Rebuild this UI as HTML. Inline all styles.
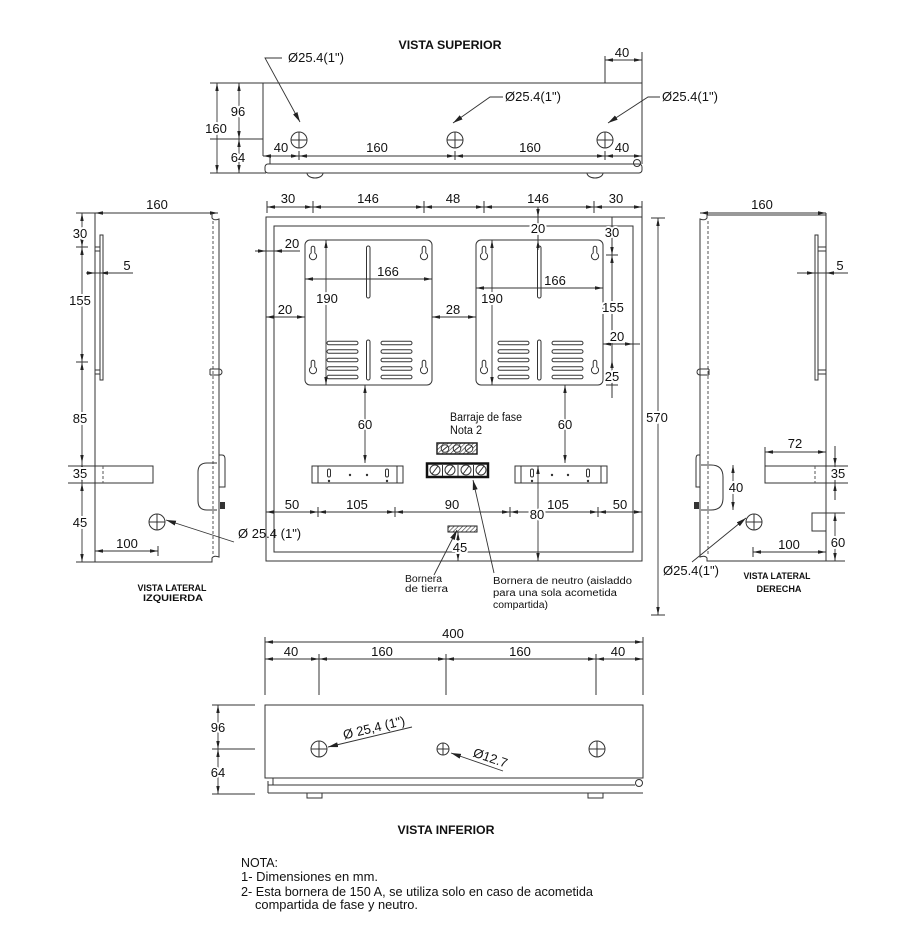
<!DOCTYPE html>
<html><head><meta charset="utf-8"><style>
html,body{margin:0;padding:0;background:#fff}
svg{display:block}
.s{stroke:#333;stroke-width:1;fill:none}
.dm{stroke:#333;stroke-width:0.9;fill:none;marker-start:url(#a);marker-end:url(#a)}
.me{stroke:#333;stroke-width:0.9;fill:none;marker-end:url(#a)}
.ld{stroke:#333;stroke-width:0.9;fill:none;marker-end:url(#b)}
.ds{stroke:#555;stroke-width:1;stroke-dasharray:3 2;fill:none}
text{font-family:"Liberation Sans",sans-serif;fill:#111}
.n{font-size:13px;text-anchor:middle}
.h{paint-order:stroke;stroke:#fff;stroke-width:4px;stroke-linejoin:round}
.tt{font-size:12px;font-weight:bold;text-anchor:middle}
.st{font-size:9.5px;font-weight:bold;text-anchor:middle}
.lb{font-size:13px}
.tc{font-size:10px}
.nt{font-size:12.5px}
</style></head><body>
<svg width="899" height="943" viewBox="0 0 899 943" xmlns="http://www.w3.org/2000/svg">
<defs>
<marker id="a" viewBox="0 0 8 4" refX="8" refY="2" markerWidth="8" markerHeight="4" markerUnits="userSpaceOnUse" orient="auto-start-reverse"><path d="M0,0.3 L8,2 L0,3.7 z" fill="#222"/></marker>
<marker id="b" viewBox="0 0 10 5" refX="10" refY="2.5" markerWidth="10" markerHeight="5" markerUnits="userSpaceOnUse" orient="auto"><path d="M0,0 L10,2.5 L0,5 z" fill="#222"/></marker>
<pattern id="hp" width="3" height="3" patternUnits="userSpaceOnUse" patternTransform="rotate(45)"><line x1="0" y1="0" x2="0" y2="3" stroke="#333" stroke-width="1.2"/></pattern>
<path id="kh" d="M-1.8,-5 A1.8,1.8 0 0 1 1.8,-5 L1.8,0 A3.6,3.6 0 1 1 -1.8,0 Z" fill="none" stroke="#333" stroke-width="1"/>
</defs>
<rect width="899" height="943" fill="#fff"/>

<!-- ================= VISTA SUPERIOR ================= -->
<text class="tt" x="450" y="49" textLength="103" lengthAdjust="spacingAndGlyphs">VISTA SUPERIOR</text>
<path class="s" d="M210,83 H642 V164 M263,83 V156 M210,139 H263 M210,173 H266"/>
<rect class="s" x="265" y="164" width="377" height="9" rx="3"/>
<path class="s" d="M270,156 V164"/>
<circle class="s" cx="637" cy="163" r="3.5"/>
<path class="s" d="M307,173 A8,5 0 0 0 323,173 M587,173 A8,5 0 0 0 603,173"/>
<g class="s">
<circle cx="299" cy="140" r="8"/><path d="M291,140 H307 M299,132 V148"/>
<circle cx="455" cy="140" r="8"/><path d="M447,140 H463 M455,132 V148"/>
<circle cx="605" cy="140" r="8"/><path d="M597,140 H613 M605,132 V148"/>
</g>
<line class="dm" x1="263" y1="156" x2="299" y2="156"/>
<line class="dm" x1="299" y1="156" x2="455" y2="156"/>
<line class="dm" x1="455" y1="156" x2="605" y2="156"/>
<line class="dm" x1="605" y1="156" x2="642" y2="156"/>
<path class="s" d="M299,151 V160 M455,151 V160 M605,151 V160"/>
<text class="n" x="281" y="152">40</text>
<text class="n" x="377" y="152">160</text>
<text class="n" x="530" y="152">160</text>
<text class="n" x="622" y="152">40</text>
<line class="dm" x1="217" y1="83" x2="217" y2="173"/>
<text class="n h" x="216" y="133">160</text>
<line class="dm" x1="239" y1="83" x2="239" y2="139"/>
<line class="dm" x1="239" y1="139" x2="239" y2="173"/>
<text class="n h" x="238" y="116">96</text>
<text class="n h" x="238" y="162">64</text>
<path class="s" d="M605,56 V83 M642,52 V83"/>
<line class="dm" x1="605" y1="60" x2="642" y2="60"/>
<text class="n" x="622" y="57">40</text>
<polyline class="ld" points="282,58 265,58 300,122"/>
<text class="lb" x="288" y="62">Ø25.4(1&quot;)</text>
<polyline class="ld" points="503,97 490,97 453,123"/>
<text class="lb" x="505" y="101">Ø25.4(1&quot;)</text>
<polyline class="ld" points="660,97 648,97 608,123"/>
<text class="lb" x="662" y="101">Ø25.4(1&quot;)</text>

<!-- ================= VISTA LATERAL IZQUIERDA ================= -->
<line class="dm" x1="95" y1="213" x2="218" y2="213"/>
<text class="n" x="157" y="209">160</text>
<path class="s" d="M95,213 V562 H212 V558 Q214,555 219,557 V219 Q214,221 212,218 V213"/>
<line class="ds" x1="213" y1="221" x2="213" y2="556"/>
<rect class="s" x="100" y="235" width="3" height="145"/>
<path class="s" d="M95,247 H100 M95,251 H100 M95,370 H100 M95,374 H100"/>
<path class="s" d="M210,369 H219 M210,375 H219 M210,369 V375 M219,369 A3,3 0 0 1 219,375"/>
<line class="dm" x1="82" y1="213" x2="82" y2="247"/>
<line class="dm" x1="82" y1="247" x2="82" y2="362"/>
<line class="dm" x1="82" y1="362" x2="82" y2="463"/>
<line class="dm" x1="82" y1="463" x2="82" y2="483"/>
<line class="dm" x1="82" y1="483" x2="82" y2="562"/>
<path class="s" d="M76,247 H88 M76,362 H88 M68,466 H95 M68,483 H95 M76,562 H95 M76,213 H95"/>
<text class="n h" x="80" y="238">30</text>
<text class="n h" x="80" y="305">155</text>
<text class="n h" x="80" y="423">85</text>
<text class="n h" x="80" y="478">35</text>
<text class="n h" x="80" y="527">45</text>
<line class="s" x1="86" y1="273" x2="133" y2="273"/>
<line class="me" x1="86" y1="273" x2="95" y2="273"/>
<line class="me" x1="112" y1="273" x2="100" y2="273"/>
<text class="n" x="127" y="270">5</text>
<rect class="s" x="95" y="466" width="58" height="17"/>
<line class="ds" x1="103" y1="466" x2="103" y2="483"/>
<path class="s" d="M217,463 H207 Q198,463 198,472 V501 Q198,510 207,510 H217"/>
<path class="s" d="M219,455 H222 Q225,455 225,459 V487 H219"/>
<rect x="220" y="502" width="5" height="7" fill="#333"/>
<g class="s"><circle cx="157" cy="522" r="8"/><path d="M149,522 H165 M157,514 V530"/></g>
<line class="ld" x1="234" y1="542" x2="166" y2="520"/>
<line class="dm" x1="95" y1="551" x2="158" y2="551"/>
<path class="s" d="M158,546 V556"/>
<text class="n" x="127" y="548">100</text>
<text class="st" x="172" y="591" textLength="69" lengthAdjust="spacingAndGlyphs">VISTA LATERAL</text>
<text class="st" x="173" y="601" textLength="60" lengthAdjust="spacingAndGlyphs">IZQUIERDA</text>

<!-- ================= VISTA FRONTAL ================= -->
<g class="s">
<rect x="266" y="217" width="376" height="344"/>
<rect x="274" y="226" width="359" height="326"/>
<rect x="305" y="240" width="127" height="145" rx="5"/>
<rect x="476" y="240" width="127" height="145" rx="5"/>
<rect x="366.5" y="246" width="3.5" height="52" rx="1.75"/>
<rect x="366.5" y="340" width="3.5" height="40" rx="1.75"/>
<rect x="537.5" y="246" width="3.5" height="52" rx="1.75"/>
<rect x="537.5" y="340" width="3.5" height="40" rx="1.75"/>
<rect x="327" y="341.3" width="31" height="3.5" rx="1.75"/>
<rect x="327" y="349.8" width="31" height="3.5" rx="1.75"/>
<rect x="327" y="358.3" width="31" height="3.5" rx="1.75"/>
<rect x="327" y="366.8" width="31" height="3.5" rx="1.75"/>
<rect x="327" y="375.3" width="31" height="3.5" rx="1.75"/>
<rect x="381" y="341.3" width="31" height="3.5" rx="1.75"/>
<rect x="381" y="349.8" width="31" height="3.5" rx="1.75"/>
<rect x="381" y="358.3" width="31" height="3.5" rx="1.75"/>
<rect x="381" y="366.8" width="31" height="3.5" rx="1.75"/>
<rect x="381" y="375.3" width="31" height="3.5" rx="1.75"/>
<rect x="498" y="341.3" width="31" height="3.5" rx="1.75"/>
<rect x="498" y="349.8" width="31" height="3.5" rx="1.75"/>
<rect x="498" y="358.3" width="31" height="3.5" rx="1.75"/>
<rect x="498" y="366.8" width="31" height="3.5" rx="1.75"/>
<rect x="498" y="375.3" width="31" height="3.5" rx="1.75"/>
<rect x="552" y="341.3" width="31" height="3.5" rx="1.75"/>
<rect x="552" y="349.8" width="31" height="3.5" rx="1.75"/>
<rect x="552" y="358.3" width="31" height="3.5" rx="1.75"/>
<rect x="552" y="366.8" width="31" height="3.5" rx="1.75"/>
<rect x="552" y="375.3" width="31" height="3.5" rx="1.75"/>
</g>
<use href="#kh" x="313" y="253"/><use href="#kh" x="424" y="253"/>
<use href="#kh" x="313" y="367"/><use href="#kh" x="424" y="367"/>
<use href="#kh" x="484" y="253"/><use href="#kh" x="595" y="253"/>
<use href="#kh" x="484" y="367"/><use href="#kh" x="595" y="367"/>

<!-- top dims -->
<line class="dm" x1="267" y1="207" x2="313" y2="207"/>
<line class="dm" x1="313" y1="207" x2="424" y2="207"/>
<line class="dm" x1="424" y1="207" x2="484" y2="207"/>
<line class="dm" x1="484" y1="207" x2="594" y2="207"/>
<line class="dm" x1="594" y1="207" x2="642" y2="207"/>
<path class="s" d="M267,201 V213 M313,201 V213 M424,201 V213 M484,201 V213 M594,201 V213 M642,201 V217"/>
<text class="n" x="288" y="203">30</text>
<text class="n" x="368" y="203">146</text>
<text class="n" x="453" y="203">48</text>
<text class="n" x="538" y="203">146</text>
<text class="n" x="616" y="203">30</text>

<!-- 570 -->
<line class="dm" x1="658" y1="218" x2="658" y2="615"/>
<path class="s" d="M651,218 H665 M651,615 H665"/>
<text class="n h" x="657" y="422">570</text>

<!-- panel dims -->
<line class="dm" x1="305" y1="279" x2="432" y2="279"/>
<text class="n" x="388" y="276">166</text>
<line class="dm" x1="476" y1="288" x2="603" y2="288"/>
<text class="n" x="555" y="285">166</text>
<line class="dm" x1="326" y1="240" x2="326" y2="385"/>
<text class="n h" x="327" y="303">190</text>
<line class="dm" x1="492" y1="240" x2="492" y2="385"/>
<text class="n h" x="492" y="303">190</text>
<line class="s" x1="255" y1="251" x2="300" y2="251"/>
<line class="me" x1="255" y1="251" x2="266" y2="251"/>
<line class="me" x1="290" y1="251" x2="274" y2="251"/>
<text class="n" x="292" y="248">20</text>
<line class="dm" x1="266" y1="317" x2="305" y2="317"/>
<text class="n" x="285" y="314">20</text>
<line class="dm" x1="432" y1="317" x2="476" y2="317"/>
<text class="n" x="453" y="314">28</text>
<line class="s" x1="538" y1="207" x2="538" y2="246"/>
<line class="me" x1="538" y1="207" x2="538" y2="217"/>
<line class="me" x1="538" y1="250" x2="538" y2="240"/>
<text class="n h" x="538" y="233">20</text>
<line class="s" x1="612" y1="217" x2="612" y2="398"/>
<line class="dm" x1="612" y1="226" x2="612" y2="255"/>
<line class="dm" x1="612" y1="255" x2="612" y2="344"/>
<line class="dm" x1="612" y1="360" x2="612" y2="385"/>
<path class="s" d="M606,255 H618 M606,385 H618"/>
<text class="n h" x="612" y="237">30</text>
<text class="n h" x="613" y="312">155</text>
<line class="dm" x1="603" y1="344" x2="633" y2="344"/>
<line class="s" x1="633" y1="344" x2="640" y2="344"/>
<text class="n h" x="617" y="341">20</text>
<text class="n h" x="612" y="381">25</text>

<!-- 60 dims -->
<line class="dm" x1="365" y1="385" x2="365" y2="463"/>
<text class="n h" x="365" y="429">60</text>
<line class="dm" x1="565" y1="385" x2="565" y2="463"/>
<text class="n h" x="565" y="429">60</text>

<!-- brackets -->
<g class="s">
<rect x="312" y="466" width="91" height="17"/>
<path d="M318,466 V483 M397,466 V483 M515,466 V483"/>
<rect x="327.5" y="469" width="3" height="8" rx="1.5"/>
<rect x="385.5" y="469" width="3" height="8" rx="1.5"/>
<rect x="515" y="466" width="92" height="17"/>
<path d="M521,466 V483 M601,466 V483"/>
<rect x="530.5" y="469" width="3" height="8" rx="1.5"/>
<rect x="586.5" y="469" width="3" height="8" rx="1.5"/>
</g>
<g fill="#333">
<circle cx="329" cy="481" r="1.2"/><circle cx="387" cy="481" r="1.2"/>
<circle cx="350" cy="475" r="1.2"/><circle cx="367" cy="475" r="1.2"/>
<circle cx="532" cy="481" r="1.2"/><circle cx="588" cy="481" r="1.2"/>
<circle cx="552" cy="475" r="1.2"/><circle cx="568" cy="475" r="1.2"/>
</g>

<!-- barraje de fase -->
<rect x="437" y="443" width="40" height="11" fill="url(#hp)" stroke="#222" stroke-width="1.5"/>
<g fill="#fff" stroke="#333" stroke-width="1">
<circle cx="445" cy="448.5" r="3.8"/><circle cx="457" cy="448.5" r="3.8"/><circle cx="469" cy="448.5" r="3.8"/>
</g>
<path class="s" d="M442,451 L448,446 M454,451 L460,446 M466,451 L472,446"/>
<text x="450" y="421" font-size="11.5" textLength="72" lengthAdjust="spacingAndGlyphs">Barraje de fase</text>
<text x="450" y="434" font-size="11.5" textLength="32" lengthAdjust="spacingAndGlyphs">Nota 2</text>

<!-- bornera de neutro -->
<rect x="427" y="463.5" width="61" height="13.5" fill="#fff" stroke="#111" stroke-width="2.5"/>
<g class="s">
<circle cx="435" cy="470" r="5"/><circle cx="450" cy="470" r="5"/><circle cx="466" cy="470" r="5"/><circle cx="481" cy="470" r="5"/>
<path d="M432,474 L438,466 M447,474 L453,466 M463,474 L469,466 M478,474 L484,466 M442.5,465 V476 M458,465 V476 M473.5,465 V476"/>
</g>

<!-- bottom dims front -->
<line class="dm" x1="266" y1="512" x2="318" y2="512"/>
<line class="dm" x1="318" y1="512" x2="395" y2="512"/>
<line class="dm" x1="395" y1="512" x2="510" y2="512"/>
<line class="dm" x1="510" y1="512" x2="598" y2="512"/>
<line class="dm" x1="598" y1="512" x2="642" y2="512"/>
<path class="s" d="M318,507 V517 M395,507 V517 M510,507 V517 M598,507 V517"/>
<text class="n" x="292" y="509">50</text>
<text class="n" x="357" y="509">105</text>
<text class="n" x="452" y="509">90</text>
<text class="n" x="558" y="509">105</text>
<text class="n" x="620" y="509">50</text>
<line class="dm" x1="538" y1="466" x2="538" y2="561"/>
<text class="n h" x="537" y="519">80</text>

<!-- bornera de tierra -->
<rect x="448" y="526" width="29" height="6" fill="url(#hp)" stroke="#222" stroke-width="1"/>
<line class="dm" x1="458" y1="532" x2="458" y2="561"/>
<text class="n h" x="460" y="552">45</text>
<line class="ld" x1="434" y1="575" x2="457" y2="530"/>
<line class="ld" x1="494" y1="573" x2="473" y2="480"/>
<text class="tc" x="405" y="582" textLength="37" lengthAdjust="spacingAndGlyphs">Bornera</text>
<text class="tc" x="405" y="592" textLength="43" lengthAdjust="spacingAndGlyphs">de tierra</text>
<text class="tc" x="493" y="584" textLength="139" lengthAdjust="spacingAndGlyphs">Bornera de neutro (aisladdo</text>
<text class="tc" x="493" y="596" textLength="124" lengthAdjust="spacingAndGlyphs">para una sola acometida</text>
<text class="tc" x="493" y="608" textLength="55" lengthAdjust="spacingAndGlyphs">compartida)</text>

<!-- leader text from left view (overlaps front) -->
<text class="lb" x="238" y="538">Ø 25.4 (1&quot;)</text>

<!-- ================= VISTA LATERAL DERECHA ================= -->
<line class="dm" x1="700" y1="213" x2="826" y2="213"/>
<text class="n" x="762" y="209">160</text>
<path class="s" d="M707,213 V218 Q705,221 700,219 V557 Q705,555 707,558 V561 H826 V213"/>
<line class="s" x1="707" y1="215" x2="826" y2="215"/>
<line class="ds" x1="708" y1="221" x2="708" y2="556"/>
<rect class="s" x="815" y="235" width="3" height="145"/>
<path class="s" d="M818,247 H826 M818,251 H826 M818,370 H826 M818,374 H826"/>
<path class="s" d="M700,369 H709 M700,375 H709 M709,369 V375 M700,369 A3,3 0 0 0 700,375"/>
<line class="s" x1="797" y1="273" x2="848" y2="273"/>
<line class="me" x1="797" y1="273" x2="815" y2="273"/>
<line class="me" x1="836" y1="273" x2="826" y2="273"/>
<text class="n" x="840" y="270">5</text>
<line class="dm" x1="765" y1="452" x2="826" y2="452"/>
<path class="s" d="M765,447 V466"/>
<text class="n" x="795" y="448">72</text>
<rect class="s" x="765" y="466" width="61" height="17"/>
<line class="ds" x1="815" y1="466" x2="815" y2="483"/>
<line class="s" x1="835" y1="446" x2="835" y2="500"/>
<line class="me" x1="835" y1="448" x2="835" y2="466"/>
<line class="me" x1="835" y1="500" x2="835" y2="483"/>
<path class="s" d="M826,466 H848 M826,483 H848"/>
<text class="n h" x="838" y="478">35</text>
<path class="s" d="M701,465 H711 Q723,465 723,477 V498 Q723,510 711,510 H701"/>
<path class="s" d="M700,455 H698 Q696,455 696,459 V487 H700"/>
<rect x="694" y="502" width="5" height="7" fill="#333"/>
<line class="dm" x1="733" y1="465" x2="733" y2="510"/>
<text class="n h" x="736" y="492">40</text>
<g class="s"><circle cx="754" cy="522" r="8"/><path d="M746,522 H762 M754,514 V530"/></g>
<line class="ld" x1="692" y1="562" x2="746" y2="518"/>
<text class="lb" x="663" y="575">Ø25.4(1&quot;)</text>
<rect class="s" x="812" y="513" width="14" height="18"/>
<path class="s" d="M826,513 H845 M826,561 H845"/>
<line class="dm" x1="835" y1="513" x2="835" y2="561"/>
<text class="n h" x="838" y="547">60</text>
<line class="dm" x1="753" y1="552" x2="826" y2="552"/>
<path class="s" d="M753,547 V557"/>
<text class="n" x="789" y="549">100</text>
<text class="st" x="777" y="579" textLength="67" lengthAdjust="spacingAndGlyphs">VISTA LATERAL</text>
<text class="st" x="779" y="592" textLength="45" lengthAdjust="spacingAndGlyphs">DERECHA</text>

<!-- ================= VISTA INFERIOR ================= -->
<line class="dm" x1="265" y1="642" x2="643" y2="642"/>
<text class="n" x="453" y="638">400</text>
<line class="dm" x1="265" y1="659" x2="319" y2="659"/>
<line class="dm" x1="319" y1="659" x2="446" y2="659"/>
<line class="dm" x1="446" y1="659" x2="596" y2="659"/>
<line class="dm" x1="596" y1="659" x2="643" y2="659"/>
<path class="s" d="M265,637 V695 M319,654 V695 M446,654 V695 M596,654 V695 M643,637 V695"/>
<text class="n" x="291" y="656">40</text>
<text class="n" x="382" y="656">160</text>
<text class="n" x="520" y="656">160</text>
<text class="n" x="618" y="656">40</text>
<rect class="s" x="265" y="705" width="378" height="73"/>
<path class="s" d="M273,778 V785 M268,781 V793 M268,785 H635 M268,793 H643"/>
<circle class="s" cx="639" cy="783" r="3.5"/>
<rect class="s" x="307" y="793" width="15" height="5"/>
<rect class="s" x="588" y="793" width="15" height="5"/>
<g class="s">
<circle cx="319" cy="749" r="8"/><path d="M311,749 H327 M319,741 V757"/>
<circle cx="443" cy="749" r="6"/><path d="M437,749 H449 M443,743 V755"/>
<circle cx="597" cy="749" r="8"/><path d="M589,749 H605 M597,741 V757"/>
</g>
<line class="ld" x1="412" y1="727" x2="328" y2="747"/>
<text class="lb" x="375" y="732" text-anchor="middle" transform="rotate(-13.4 375 732)">Ø 25,4 (1&quot;)</text>
<line class="ld" x1="503" y1="771" x2="451" y2="753"/>
<text class="lb" x="489" y="762" text-anchor="middle" transform="rotate(19 489 762)">Ø12.7</text>
<line class="dm" x1="218" y1="705" x2="218" y2="749"/>
<line class="dm" x1="218" y1="749" x2="218" y2="794"/>
<path class="s" d="M212,705 H255 M212,749 H255 M212,794 H255"/>
<text class="n h" x="218" y="732">96</text>
<text class="n h" x="218" y="777">64</text>
<text class="tt" x="446" y="834" textLength="97" lengthAdjust="spacingAndGlyphs">VISTA INFERIOR</text>

<!-- ================= NOTA ================= -->
<text class="nt" x="241" y="867" textLength="37" lengthAdjust="spacingAndGlyphs">NOTA:</text>
<text class="nt" x="241" y="881" textLength="137" lengthAdjust="spacingAndGlyphs">1- Dimensiones en mm.</text>
<text class="nt" x="241" y="896" textLength="352" lengthAdjust="spacingAndGlyphs">2- Esta bornera de 150 A, se utiliza solo en caso de acometida</text>
<text class="nt" x="255" y="909" textLength="163" lengthAdjust="spacingAndGlyphs">compartida de fase y neutro.</text>
</svg>
</body></html>
